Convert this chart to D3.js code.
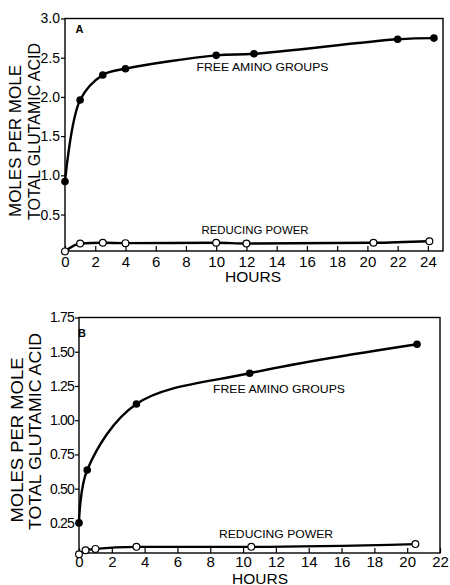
<!DOCTYPE html>
<html>
<head>
<meta charset="utf-8">
<script src="https://cdn.jsdelivr.net/npm/d3@7"></script>
<style>
  body { margin: 0; background: #fff; }
  text { font-family: "Liberation Sans", Arial, sans-serif; fill: #000; }
</style>
</head>
<body>
<div id="chart-area"></div>
<script>
// Panel A - hours vs moles per mole
const hoursTicksA = [0, 2, 4, 6, 8, 10, 12, 14, 16, 18, 20, 22, 24]
const molesTicksA = [0.5, 1.0, 1.5, 2.0, 2.5, 3.0]
const aminoA = [
  { h: 0, v: 0.92 }, { h: 1, v: 1.96 }, { h: 2.5, v: 2.28 }, { h: 4, v: 2.36 },
  { h: 10, v: 2.53 }, { h: 12.5, v: 2.55 }, { h: 22, v: 2.735 }, { h: 24.4, v: 2.75 }
]
const reducingA = [
  { h: 0, v: 0.03 }, { h: 1, v: 0.13 }, { h: 2.5, v: 0.14 }, { h: 4, v: 0.135 },
  { h: 10, v: 0.14 }, { h: 12, v: 0.13 }, { h: 20.4, v: 0.14 }, { h: 24.1, v: 0.16 }
]

// Panel B
const hoursTicksB = [0, 2, 4, 6, 8, 10, 12, 14, 16, 18, 20, 22]
const molesTicksB = [0.25, 0.5, 0.75, 1.0, 1.25, 1.5, 1.75]
const aminoB = [
  { h: 0, v: 0.25 }, { h: 0.5, v: 0.636 }, { h: 3.5, v: 1.118 },
  { h: 10.4, v: 1.343 }, { h: 20.6, v: 1.555 }
]
const reducingB = [
  { h: 0, v: 0.02 }, { h: 0.4, v: 0.05 }, { h: 1, v: 0.06 }, { h: 3.5, v: 0.075 },
  { h: 10.5, v: 0.075 }, { h: 20.5, v: 0.095 }
]

const svg = d3.select("#chart-area").append("svg")
  .attr("width", 450)
  .attr("height", 585)

function drawPanel(cfg) {
  const g = svg.append("g")

  const x = d3.scaleLinear().domain(cfg.xDomain).range([cfg.left, cfg.right])
  const y = d3.scaleLinear().domain(cfg.yDomain).range([cfg.bottom, cfg.top])

  // frame
  g.append("rect")
    .attr("x", cfg.left)
    .attr("y", cfg.top)
    .attr("width", cfg.right - cfg.left)
    .attr("height", cfg.bottom - cfg.top)
    .attr("fill", "none")
    .attr("stroke", "#000")
    .attr("stroke-width", 1.4)

  const xAxisCall = d3.axisBottom(x)
    .tickValues(cfg.xTicks)
    .tickSizeInner(-5)
    .tickSizeOuter(0)
    .tickPadding(cfg.xPad)
    .tickFormat(d3.format("d"))
  const xa = g.append("g")
    .attr("transform", `translate(0, ${cfg.bottom})`)
    .call(xAxisCall)
  xa.select(".domain").remove()
  xa.selectAll("line").attr("stroke", "#000").attr("stroke-width", 1.2)
  xa.selectAll("text").attr("font-size", "15px").attr("fill", "#000")
    .attr("font-family", "Liberation Sans, Arial, sans-serif")

  const yAxisCall = d3.axisLeft(y)
    .tickValues(cfg.yTicks)
    .tickSizeInner(4)
    .tickSizeOuter(0)
    .tickPadding(1)
    .tickFormat(d3.format(cfg.yFormat))
  const ya = g.append("g")
    .attr("transform", `translate(${cfg.left}, 0)`)
    .call(yAxisCall)
  ya.select(".domain").remove()
  ya.selectAll("line").attr("stroke", "#000").attr("stroke-width", 1.2)
  ya.selectAll("text").attr("font-size", "14px").attr("fill", "#000")
    .attr("letter-spacing", cfg.yLetter)
    .attr("font-family", "Liberation Sans, Arial, sans-serif")

  // y title, two lines
  cfg.titles.forEach(t => {
    g.append("text")
      .attr("transform", `translate(${t.x}, ${t.y}) rotate(-90)`)
      .attr("text-anchor", "middle")
      .attr("dy", "0.36em")
      .attr("font-size", "17px")
      .attr("textLength", t.len)
      .attr("lengthAdjust", "spacingAndGlyphs")
      .text(t.text)
  })

  // x title
  g.append("text")
    .attr("x", cfg.hoursX)
    .attr("y", cfg.hoursY)
    .attr("text-anchor", "middle")
    .attr("font-size", "15.5px")
    .text("HOURS")

  const aminoLine = d3.line()
    .x(d => x(d.h))
    .y(d => y(d.v))
    .curve(d3.curveCatmullRom.alpha(0.5))

  const redLine = d3.line()
    .x(d => x(d.h))
    .y(d => y(d.v))
    .curve(d3.curveMonotoneX)

  g.append("path")
    .datum(cfg.reducing)
    .attr("d", redLine)
    .attr("fill", "none")
    .attr("stroke", "#000")
    .attr("stroke-width", 2.4)

  g.append("path")
    .datum(cfg.amino)
    .attr("d", aminoLine)
    .attr("fill", "none")
    .attr("stroke", "#000")
    .attr("stroke-width", 2.4)

  g.selectAll(".amino")
    .data(cfg.amino)
    .enter().append("circle")
    .attr("cx", d => x(d.h))
    .attr("cy", d => y(d.v))
    .attr("r", 3.8)
    .attr("fill", "#000")

  g.selectAll(".reducing")
    .data(cfg.reducing)
    .enter().append("circle")
    .attr("cx", d => x(d.h))
    .attr("cy", d => y(d.v))
    .attr("r", 3.4)
    .attr("fill", "#fff")
    .attr("stroke", "#000")
    .attr("stroke-width", 1.2)

  // labels
  g.append("text")
    .attr("x", cfg.aminoLabel[0]).attr("y", cfg.aminoLabel[1])
    .attr("text-anchor", "middle")
    .attr("font-size", "11.5px")
    .attr("textLength", 132)
    .attr("lengthAdjust", "spacingAndGlyphs")
    .text("FREE AMINO GROUPS")

  g.append("text")
    .attr("x", cfg.redLabel[0]).attr("y", cfg.redLabel[1])
    .attr("text-anchor", "middle")
    .attr("font-size", "11.5px")
    .attr("textLength", cfg.redLen)
    .attr("lengthAdjust", "spacingAndGlyphs")
    .text("REDUCING POWER")

  g.append("text")
    .attr("x", cfg.letter[0]).attr("y", cfg.letter[1])
    .attr("text-anchor", "middle")
    .attr("font-size", "11px")
    .attr("font-weight", "bold")
    .text(cfg.name)
}

drawPanel({
  name: "A",
  left: 65, right: 443, top: 18.5, bottom: 251,
  xDomain: [0, 25], yDomain: [0.035, 3.0],
  xTicks: hoursTicksA, yTicks: molesTicksA, yFormat: ".1f", yLetter: "0px",
  xPad: 5,
  amino: aminoA, reducing: reducingA,
  titles: [
    { text: "MOLES PER MOLE", x: 15, y: 141, len: 152 },
    { text: "TOTAL GLUTAMIC ACID", x: 33.5, y: 131.5, len: 177 }
  ],
  hoursX: 253, hoursY: 282,
  aminoLabel: [262.5, 71], redLabel: [255, 234], redLen: 107,
  letter: [79.5, 33]
})

drawPanel({
  name: "B",
  left: 79, right: 440, top: 317.5, bottom: 553,
  xDomain: [0, 22], yDomain: [0.03, 1.75],
  xTicks: hoursTicksB, yTicks: molesTicksB, yFormat: ".2f", yLetter: "-0.8px",
  xPad: 3,
  amino: aminoB, reducing: reducingB,
  titles: [
    { text: "MOLES PER MOLE", x: 17, y: 440, len: 165 },
    { text: "TOTAL GLUTAMIC ACID", x: 35, y: 431.5, len: 197 }
  ],
  hoursX: 260, hoursY: 583.5,
  aminoLabel: [279, 393], redLabel: [276, 538], redLen: 114,
  letter: [82, 337]
})
</script>
</body>
</html>
